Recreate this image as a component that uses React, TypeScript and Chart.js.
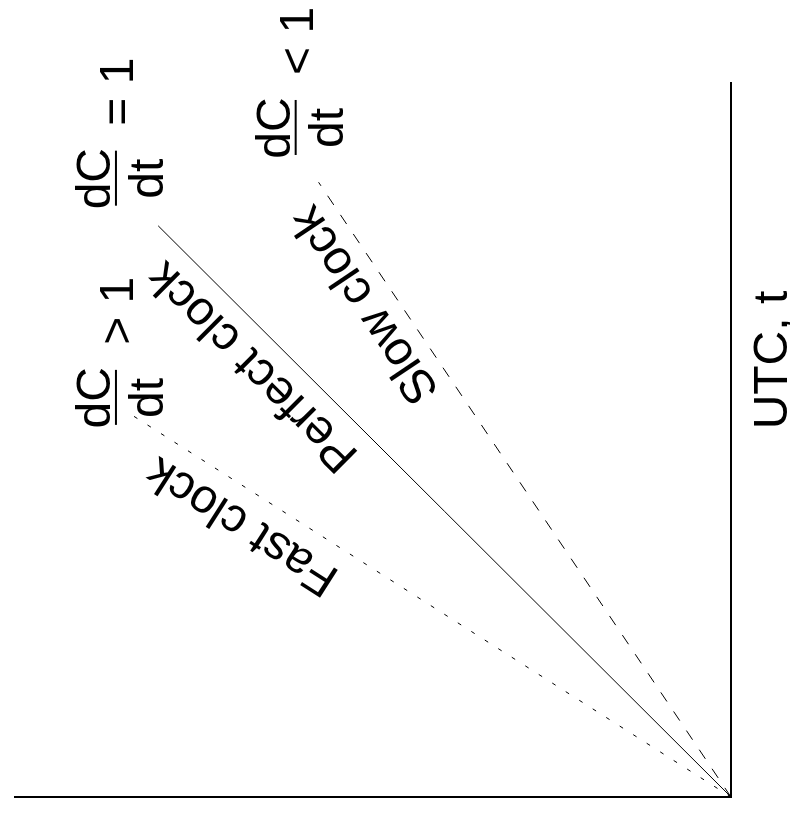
import { useEffect, useRef } from "react";
import { Chart, registerables } from "chart.js";

Chart.register(...registerables);

// ---- Data (UTC t on x, clock time C on y; each clock line starts at the origin) ----
const xAxisTitle = "UTC, t";
const seriesNames = ["Fast clock", "Perfect clock", "Slow clock"];
const fastT = [0, 5.39];
const fastC = [0, 8.43];
const perfectT = [0, 8];
const perfectC = [0, 8];
const slowT = [0, 8.61];
const slowC = [0, 5.76];
// dC/dt relation shown for each clock
const rateOps = [">", "=", "<"];
const rateValue = "1";
const axisMin = 0;
const axisMax = 10;

// ---- Annotation anchors (in data units) ----
const lineLabelAnchors = [
  { t: 3.81, c: 6.82 },
  { t: 6.04, c: 6.67 },
  { t: 6.9, c: 5.1 },
];
const rateLabelAnchors = [
  { t: 5.59, c: 8.59 },
  { t: 8.66, c: 8.59 },
  { t: 9.37, c: 6.08 },
];
const titleAnchor = { t: 6.12 };

const FONT = '48px "Liberation Sans", Arial, Helvetica, sans-serif';

const seriesT = [fastT, perfectT, slowT];
const seriesC = [fastC, perfectC, slowC];
const seriesDash = [[4, 12], [], [11, 12]];

const textPlugin = {
  id: "clockText",
  afterDatasetsDraw(chart: any) {
    const { ctx, scales, chartArea } = chart;
    const xs = scales.x;
    const ys = scales.y;
    ctx.save();
    ctx.fillStyle = "#000";
    ctx.font = FONT;

    // labels along each line
    seriesNames.forEach((name, i) => {
      const t = seriesT[i];
      const c = seriesC[i];
      const x0 = xs.getPixelForValue(t[0]);
      const y0 = ys.getPixelForValue(c[0]);
      const x1 = xs.getPixelForValue(t[t.length - 1]);
      const y1 = ys.getPixelForValue(c[c.length - 1]);
      const ang = Math.atan2(y1 - y0, x1 - x0);
      const a = lineLabelAnchors[i];
      ctx.save();
      ctx.translate(xs.getPixelForValue(a.t), ys.getPixelForValue(a.c));
      ctx.rotate(ang);
      ctx.textAlign = "center";
      ctx.textBaseline = "middle";
      ctx.fillText(name, 0, 0);
      ctx.restore();
    });

    // dC/dt fraction labels
    rateLabelAnchors.forEach((a, i) => {
      const bx = xs.getPixelForValue(a.t);
      const by = ys.getPixelForValue(a.c);
      ctx.textAlign = "center";
      ctx.textBaseline = "alphabetic";
      ctx.fillText("dC", bx, by - 6);
      ctx.fillText("dt", bx, by + 47);
      ctx.fillRect(bx - 27, by - 1, 55, 2);
      ctx.textAlign = "left";
      ctx.fillText(rateOps[i] + " " + rateValue, bx + 53, by + 17);
    });

    // x axis title
    ctx.textAlign = "center";
    ctx.textBaseline = "alphabetic";
    ctx.fillText(xAxisTitle, xs.getPixelForValue(titleAnchor.t), chartArea.bottom + 56);
    ctx.restore();
  },
};

export default function App() {
  const ref = useRef<HTMLCanvasElement>(null);

  useEffect(() => {
    const canvas = ref.current;
    if (!canvas) return;
    const chart = new Chart(canvas, {
      type: "scatter",
      data: {
        datasets: seriesNames.map((name, i) => ({
          label: name,
          data: seriesT[i].map((t, j) => ({ x: t, y: seriesC[i][j] })),
          showLine: true,
          borderColor: "#000",
          backgroundColor: "#000",
          borderWidth: 1,
          borderDash: seriesDash[i],
          pointRadius: 0,
          fill: false,
          tension: 0,
        })),
      },
      options: {
        animation: false,
        responsive: false,
        maintainAspectRatio: false,
        devicePixelRatio: 1,
        layout: { padding: { left: 17, top: 15, right: 83, bottom: 59 } },
        plugins: {
          legend: { display: false },
          tooltip: { enabled: false },
          title: { display: false },
        },
        scales: {
          x: {
            type: "linear",
            min: axisMin,
            max: axisMax,
            grid: { display: false, drawTicks: false, tickLength: 0 },
            ticks: { display: false, padding: 0 },
            border: { display: true, color: "#000", width: 2 },
          },
          y: {
            type: "linear",
            min: axisMin,
            max: axisMax,
            grid: { display: false, drawTicks: false, tickLength: 0 },
            ticks: { display: false, padding: 0 },
            border: { display: true, color: "#000", width: 2 },
          },
        },
      },
      plugins: [textPlugin],
    });
    return () => chart.destroy();
  }, []);

  return (
    <div
      style={{
        position: "fixed",
        left: 0,
        top: 0,
        width: 790,
        height: 814,
        overflow: "hidden",
        background: "#fff",
      }}
    >
      <div
        style={{
          position: "absolute",
          left: 0,
          top: 0,
          width: 814,
          height: 790,
          transformOrigin: "0 0",
          transform: "translate(0px, 814px) rotate(-90deg)",
        }}
      >
        <canvas ref={ref} width={814} height={790} style={{ display: "block", width: 814, height: 790 }} />
      </div>
    </div>
  );
}
